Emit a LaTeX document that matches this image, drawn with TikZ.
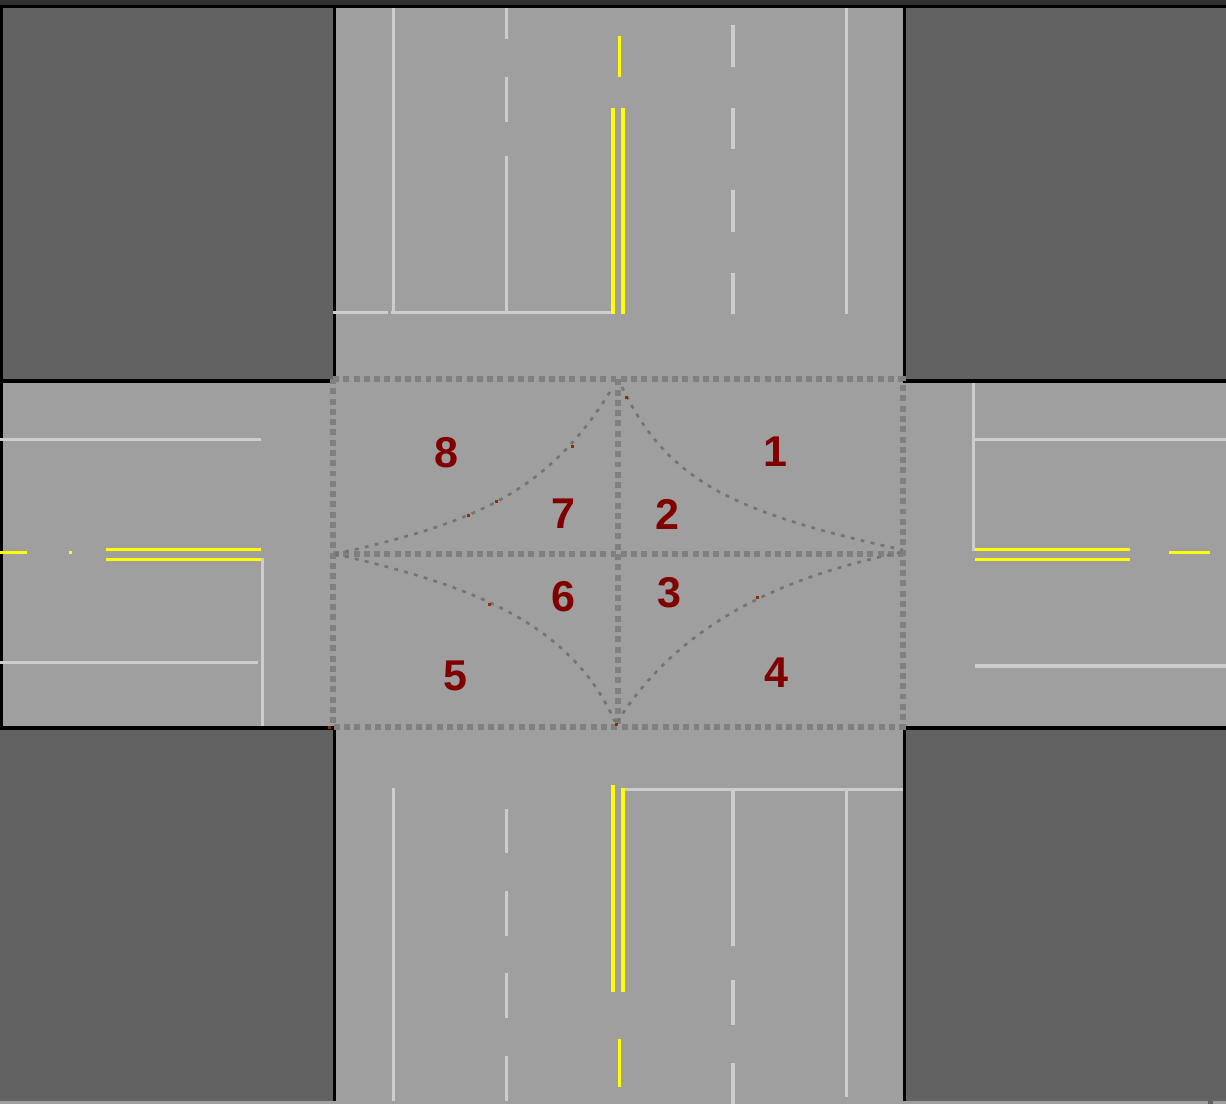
\documentclass[tikz,border=0pt]{standalone}
\usepackage{xcolor}
\usepackage{fontspec}
\setmainfont{Liberation Sans}
\definecolor{roadc}{HTML}{9F9F9F}
\definecolor{blockc}{HTML}{626262}
\definecolor{topc}{HTML}{303030}
\definecolor{markc}{HTML}{CDCDCD}
\definecolor{yelc}{HTML}{FFFF00}
\definecolor{dotc}{HTML}{808080}
\definecolor{curvc}{HTML}{747474}
\definecolor{labc}{HTML}{800000}
\definecolor{speckc}{HTML}{8B3000}
\tikzset{
  blk/.style={fill=blockc},
  edge/.style={fill=black},
  mk/.style={markc,line width=1.7pt},
  mkw/.style={markc,line width=2.2pt},
  yl/.style={yelc,line width=1.7pt},
  ylw/.style={yelc,line width=2.2pt},
  zone/.style={dotc,line width=3.4pt,dash pattern=on 3.4pt off 2.45pt},
  crv/.style={curvc,line width=1.5pt,dash pattern=on 2.2pt off 3.6pt},
  lb/.style={text=labc,inner sep=0pt,font=\fontsize{24.5}{28}\selectfont\bfseries}
}
\begin{document}
\begin{tikzpicture}[x=0.02cm,y=-0.02cm]
\useasboundingbox (0,0) rectangle (1226,1104);
\fill[roadc] (0,0) rectangle (1226,1104);
\fill[topc] (0,0) rectangle (1226,5);
\fill[blk] (3,8) rectangle (333,379);
\fill[blk] (906,8) rectangle (1226,379);
\fill[blk] (0,730) rectangle (333,1101);
\fill[blk] (906,730) rectangle (1226,1101);
\fill[edge] (0,5) rectangle (1226,8);
\fill[edge] (0,5) rectangle (3,726);
\fill[edge] (333,8) rectangle (336,383);
\fill[edge] (903,8) rectangle (906,383);
\fill[edge] (0,379) rectangle (336,383);
\fill[edge] (903,379) rectangle (1226,383);
\fill[edge] (0,726) rectangle (336,730);
\fill[edge] (903,726) rectangle (1226,730);
\fill[edge] (333,726) rectangle (336,1101);
\fill[edge] (903,726) rectangle (906,1101);
\fill[blockc] (1208,1101) rectangle (1213,1104);
\foreach \x/\a/\b in {393/8/314,846.6/8/314,506.4/8/39,506.4/77/122,506.4/156/312,393/788/1101,846.6/791/1097,506.4/809/853,506.4/891/936,506.4/973/1018,506.4/1056/1101,262.3/558/726,973.3/383/551}{\draw[mk] (\x,\a)--(\x,\b);}
\foreach \x/\a/\b in {733/25/67,733/108/149,733/190/232,733/273/314,733/791/946,733/980/1025,733/1063/1104}{\draw[mkw] (\x,\a)--(\x,\b);}
\foreach \y/\a/\b in {312.3/333/388,312.3/391/615,789.3/623/903,439.3/0/261,662.3/0/258,439.3/975/1226}{\draw[mk] (\a,\y)--(\b,\y);}
\draw[mkw] (975,666)--(1226,666);
\foreach \x/\a/\b in {619.6/36/77,619.6/1039/1087}{\draw[yl] (\x,\a)--(\x,\b);}
\foreach \x/\a/\b in {613/108/314,623/108/314,613/785/992,623/788/992}{\draw[ylw] (\x,\a)--(\x,\b);}
\foreach \y/\a/\b in {552.3/0/27,552.3/69/72,549.3/106/261,559.3/106/261,549.3/975/1130,559.3/975/1130,552.3/1169/1210}{\draw[yl] (\a,\y)--(\b,\y);}
\draw[zone] (333,379.3)--(902.7,379.3)--(902.7,726.7)--(333,726.7)--cycle;
\draw[zone] (333,554.3)--(902.7,554.3);
\draw[zone] (617.7,379.3)--(617.7,726.7);
\draw[crv] (335,554) .. controls (480,522) and (550,490) .. (613,387);
\draw[crv] (622,387) .. controls (668,483) and (736,513) .. (903,550);
\draw[crv] (335,554) .. controls (465,584) and (570,620) .. (615,722);
\draw[crv] (617,722) .. controls (672,636) and (760,581) .. (903,552);
\foreach \x/\y in {626/398,572/446,496/501,468/515,489/604,757/597,616/724,329/727}{\fill[speckc] (\x-1.5,\y-1.5) rectangle (\x+1.5,\y+1.5);}
\node[lb] (n1) at (775,452) {1};
\node[lb] (n2) at (667,514) {2};
\node[lb] (n3) at (669,593) {3};
\node[lb] (n4) at (776,673) {4};
\node[lb] (n5) at (455,676) {5};
\node[lb] (n6) at (563,597) {6};
\node[lb] (n7) at (563,514) {7};
\node[lb] (n8) at (446,453) {8};
\end{tikzpicture}
\end{document}
